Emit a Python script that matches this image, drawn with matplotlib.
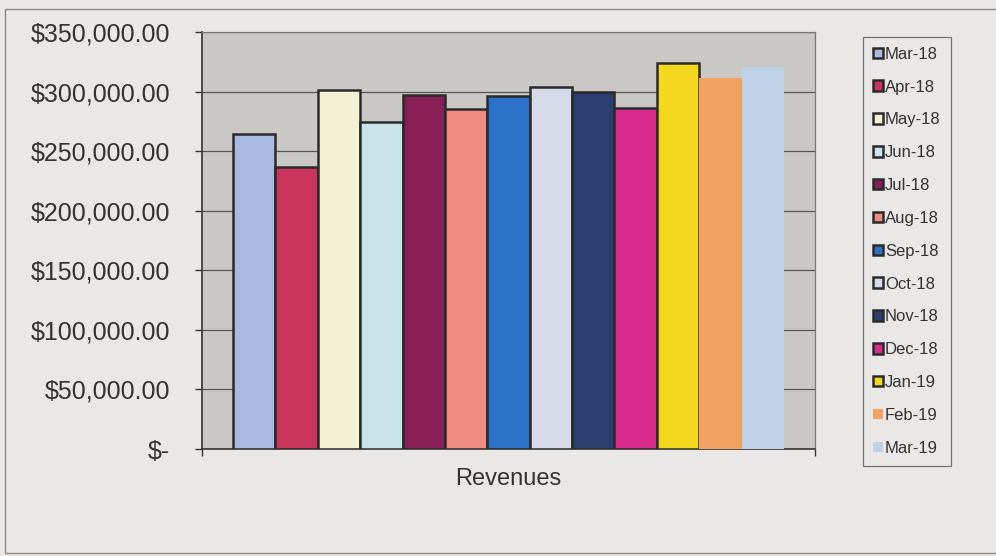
import matplotlib
matplotlib.use("Agg")
import matplotlib.pyplot as plt
from matplotlib.patches import Rectangle
from matplotlib.ticker import FuncFormatter

plt.rcParams['font.family'] = ['Liberation Sans', 'DejaVu Sans']

# ---- data ----
months = ["Mar-18", "Apr-18", "May-18", "Jun-18", "Jul-18", "Aug-18", "Sep-18",
          "Oct-18", "Nov-18", "Dec-18", "Jan-19", "Feb-19", "Mar-19"]
revenues = [264800, 236500, 301000, 274500, 297000, 285500, 296500,
            304000, 299500, 286500, 324000, 311500, 320500]
colors = ["#a9b9e2", "#c9345c", "#f4f0d3", "#c9e4ea", "#871f56", "#ef8b81",
          "#2b73c9", "#d6d9e7", "#2b3f70", "#d92b8d", "#f3d81d", "#f1a262",
          "#bed1e6"]
outlined = [True] * 11 + [False, False]
y_ticks = [0, 50000, 100000, 150000, 200000, 250000, 300000, 350000]
category = "Revenues"

FIG_BG = "#e9e8e6"
PLOT_BG = "#cac8c4"
EDGE = "#2a2a2a"

fig = plt.figure(figsize=(9.96, 5.56), dpi=100, facecolor=FIG_BG)
ax = fig.add_axes([0.2028, 0.1924, 0.6155, 0.75])
ax.set_facecolor(PLOT_BG)

# outer chart frame
fig.patches.append(Rectangle((5 / 996, 3 / 556), 1.0, 544 / 556,
                             transform=fig.transFigure, fill=False,
                             edgecolor="#8a8a8a", lw=1.0))

xs = list(range(len(months)))
for x, v, c, o, m in zip(xs, revenues, colors, outlined, months):
    ax.bar(x, v, width=1.0, color=c, label=m,
           edgecolor=EDGE if o else c, linewidth=1.8 if o else 0, zorder=3)

ax.set_xlim(-1.23, len(months) - 1 + 1.23)
ax.set_ylim(0, 350000)
ax.set_yticks(y_ticks)
ax.yaxis.set_major_formatter(FuncFormatter(
    lambda v, p: "$-" if v == 0 else "${:,.2f}".format(v)))
ax.grid(True, axis="y", color="#555555", lw=0.9, zorder=1)
ax.tick_params(axis="y", direction="out", length=5, width=1, color="#333333",
               labelsize=18, labelcolor="#333333", pad=18)

ax.set_xticks([(len(months) - 1) / 2], labels=[category])
ax.tick_params(axis="x", length=0, labelsize=17, labelcolor="#333333", pad=14)
ax.set_xticks([-1.23, len(months) - 1 + 1.23], minor=True)
ax.tick_params(axis="x", which="minor", direction="out", length=5, width=1,
               color="#333333")

for s in ("left", "bottom"):
    ax.spines[s].set_color("#333333")
    ax.spines[s].set_linewidth(1.2)
for s in ("top", "right"):
    ax.spines[s].set_color("#777777")
    ax.spines[s].set_linewidth(0.9)

leg = fig.legend(loc="upper left", bbox_to_anchor=(0.866, 0.934),
                 fontsize=12, frameon=True, fancybox=False,
                 handlelength=0.6, handleheight=0.6, handletextpad=0.15,
                 labelspacing=1.07, borderpad=0.6, borderaxespad=0)
leg.get_frame().set_edgecolor("#555555")
leg.get_frame().set_facecolor(FIG_BG)
leg.get_frame().set_linewidth(0.9)
for t in leg.get_texts():
    t.set_color("#333333")

fig.savefig("out.png", dpi=100, facecolor=FIG_BG)
